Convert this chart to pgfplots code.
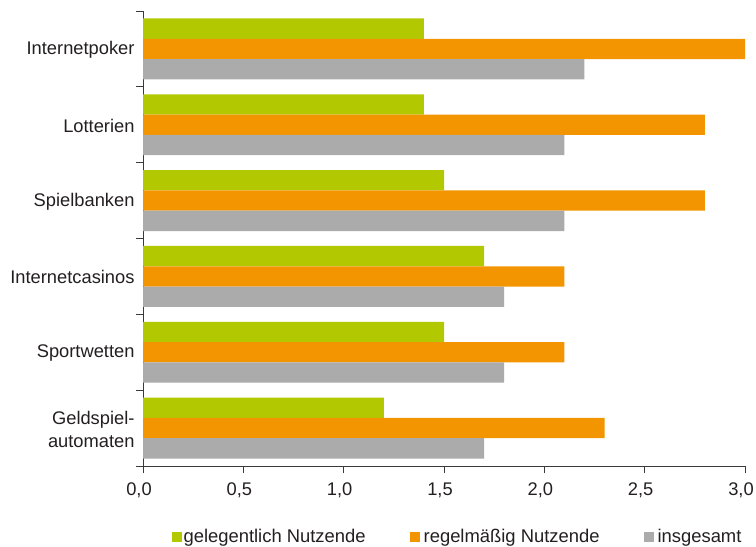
\documentclass[border=0pt]{standalone}
\usepackage{pgfplots}
\pgfplotsset{compat=1.18}
\usepackage{fontspec}
\setmainfont{Liberation Sans}
\definecolor{cgreen}{HTML}{B2C800}
\definecolor{corange}{HTML}{F39500}
\definecolor{cgray}{HTML}{ABABAB}
\definecolor{ctext}{HTML}{231F20}
\definecolor{caxis}{HTML}{3A3A3A}
\begin{document}
\begin{tikzpicture}
\begin{axis}[
  at={(143bp,81bp)}, anchor=south west,
  scale only axis, width=602bp, height=455bp,
  xbar, bar width=20.3bp,
  xmin=0, xmax=3, ymin=-0.5, ymax=5.5,
  axis x line*=bottom, axis y line*=left,
  axis line style={caxis, line width=0.9bp},
  tick align=outside,
  major tick length=7bp, minor tick length=7bp,
  tick style={caxis, line width=0.9bp},
  every major y tick/.style={draw=none},
  xtick={0,0.5,1,1.5,2,2.5,3},
  ytick={0,1,2,3,4,5},
  yticklabels={{Geldspiel-\\automaten},Sportwetten,Internetcasinos,Spielbanken,Lotterien,Internetpoker},
  minor ytick={-0.5,0.5,1.5,2.5,3.5,4.5,5.5},
  /pgf/number format/.cd, fixed, fixed zerofill, precision=1, use comma, assume math mode=true,
  /pgfplots/.cd,
  every tick label/.append style={font=\fontsize{18.3bp}{23bp}\selectfont, text=ctext},
  yticklabel style={align=right, xshift=2bp, yshift=-1bp},
  xticklabel style={yshift=-6bp, xshift=-4bp},
  legend style={at={(0.5216,-0.155)}, anchor=center, draw=none, fill=none,
    font=\fontsize{18.4bp}{21bp}\selectfont, text=ctext,
    /tikz/every even column/.append style={column sep=43bp},
    nodes={inner sep=1bp}},
  legend columns=3,
  legend image code/.code={\fill[#1,draw=none] (0bp,-5bp) rectangle (10bp,5bp);},
]
\addplot[fill=cgreen, draw=none, bar shift=20.3bp] coordinates {(1.4,5) (1.4,4) (1.5,3) (1.7,2) (1.5,1) (1.2,0)};
\addplot[fill=corange, draw=none, bar shift=0bp] coordinates {(3.0,5) (2.8,4) (2.8,3) (2.1,2) (2.1,1) (2.3,0)};
\addplot[fill=cgray, draw=none, bar shift=-20.3bp] coordinates {(2.2,5) (2.1,4) (2.1,3) (1.8,2) (1.8,1) (1.7,0)};
\legend{{\hspace{1bp}gelegentlich Nutzende}, {\hspace{3bp}regelmäßig Nutzende}, {\hspace{3bp}insgesamt}}
\end{axis}
\pgfresetboundingbox
\path[use as bounding box] (0,0) rectangle (756bp,547bp);
\end{tikzpicture}
\end{document}
